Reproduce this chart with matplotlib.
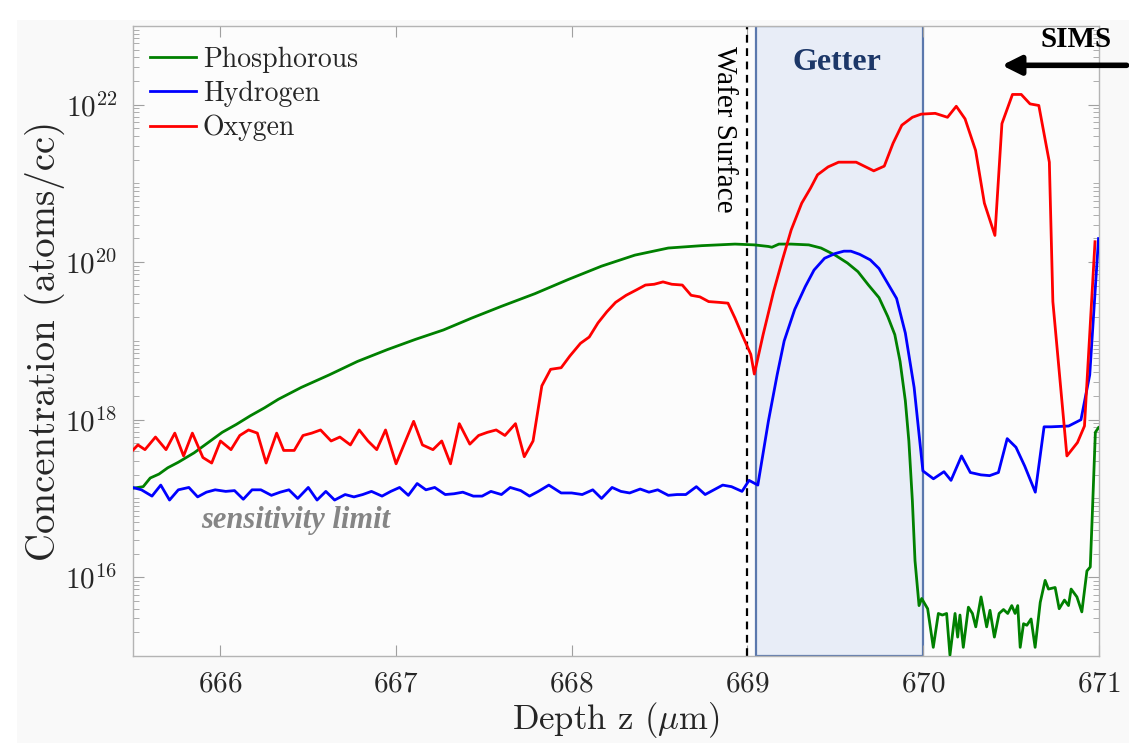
import numpy as np
import matplotlib.pyplot as plt
from matplotlib.patches import Rectangle
from matplotlib.ticker import LogLocator, NullFormatter, FixedLocator

plt.rcParams['font.family'] = 'serif'
plt.rcParams['font.serif'] = ['cmr10']
plt.rcParams['mathtext.fontset'] = 'cm'
plt.rcParams['axes.formatter.use_mathtext'] = True

# SIMS depth profiles, depth in um and log10 of concentration in atoms/cc
p_depth = [665.50, 665.56, 665.60, 665.65, 665.70, 665.76, 665.85, 665.93, 666.01, 666.09,
           666.17, 666.25, 666.33, 666.46, 666.62, 666.78, 666.95, 667.11, 667.27, 667.43,
           667.60, 667.79, 667.98, 668.17, 668.36, 668.55, 668.74, 668.93, 669.04, 669.12,
           669.14, 669.18, 669.25, 669.35, 669.42, 669.50, 669.57, 669.63, 669.69, 669.75,
           669.80, 669.84, 669.87, 669.90, 669.92, 669.94, 669.955, 669.978, 669.993, 670.027,
           670.059, 670.088, 670.111, 670.135, 670.154, 670.183, 670.198, 670.211, 670.230, 670.259,
           670.282, 670.301, 670.331, 670.363, 670.382, 670.407, 670.434, 670.459, 670.483, 670.506,
           670.525, 670.540, 670.554, 670.573, 670.592, 670.616, 670.639, 670.668, 670.696, 670.715,
           670.753, 670.776, 670.806, 670.829, 670.844, 670.877, 670.905, 670.934, 670.953, 670.964,
           670.982, 671.00]
p_log = [17.13, 17.15, 17.26, 17.31, 17.39, 17.46, 17.58, 17.71, 17.84, 17.94,
         18.05, 18.15, 18.26, 18.41, 18.57, 18.74, 18.89, 19.02, 19.14, 19.29,
         19.44, 19.60, 19.78, 19.95, 20.09, 20.18, 20.21, 20.23, 20.22, 20.20,
         20.19, 20.23, 20.23, 20.22, 20.18, 20.09, 19.99, 19.88, 19.71, 19.55,
         19.31, 19.08, 18.74, 18.24, 17.73, 16.97, 16.21, 15.64, 15.73, 15.60,
         15.11, 15.54, 15.52, 15.54, 15.01, 15.54, 15.24, 15.52, 15.11, 15.62,
         15.54, 15.37, 15.75, 15.37, 15.58, 15.24, 15.54, 15.59, 15.54, 15.64,
         15.54, 15.64, 15.11, 15.41, 15.39, 15.47, 15.11, 15.68, 15.96, 15.85,
         15.87, 15.60, 15.71, 15.64, 15.85, 15.75, 15.56, 16.08, 16.13, 16.76,
         17.84, 17.90]

h_depth = [665.50, 665.55, 665.61, 665.66, 665.71, 665.76, 665.82, 665.87, 665.92, 665.97,
           666.03, 666.08, 666.13, 666.18, 666.23, 666.29, 666.34, 666.39, 666.44, 666.50,
           666.55, 666.60, 666.65, 666.71, 666.76, 666.81, 666.86, 666.92, 666.97, 667.02,
           667.07, 667.12, 667.17, 667.22, 667.28, 667.33, 667.38, 667.44, 667.49, 667.54,
           667.60, 667.65, 667.71, 667.76, 667.81, 667.87, 667.94, 668.00, 668.06, 668.12,
           668.17, 668.23, 668.28, 668.33, 668.39, 668.44, 668.49, 668.55, 668.60, 668.65,
           668.71, 668.76, 668.81, 668.86, 668.91, 668.97, 669.01, 669.06, 669.12, 669.17,
           669.21, 669.27, 669.33, 669.38, 669.44, 669.50, 669.55, 669.59, 669.64, 669.70,
           669.75, 669.80, 669.85, 669.90, 669.95, 670.00, 670.06, 670.12, 670.16, 670.22,
           670.27, 670.33, 670.38, 670.43, 670.48, 670.53, 670.58, 670.64, 670.69, 670.73,
           670.83, 670.90, 670.95, 671.00]
h_log = [17.14, 17.11, 17.03, 17.17, 16.98, 17.11, 17.14, 17.02, 17.08, 17.11,
         17.09, 17.10, 16.99, 17.11, 17.11, 17.04, 17.08, 17.11, 17.00, 17.14,
         16.98, 17.09, 16.98, 17.05, 17.02, 17.05, 17.09, 17.03, 17.09, 17.14,
         17.04, 17.19, 17.11, 17.14, 17.05, 17.06, 17.08, 17.03, 17.03, 17.09,
         17.05, 17.14, 17.10, 17.03, 17.09, 17.17, 17.07, 17.07, 17.05, 17.11,
         17.00, 17.14, 17.09, 17.07, 17.12, 17.08, 17.11, 17.04, 17.05, 17.05,
         17.15, 17.05, 17.11, 17.17, 17.15, 17.09, 17.23, 17.17, 17.98, 18.57,
         19.00, 19.40, 19.69, 19.90, 20.05, 20.11, 20.14, 20.14, 20.10, 20.03,
         19.92, 19.73, 19.54, 19.10, 18.41, 17.35, 17.25, 17.34, 17.23, 17.54,
         17.33, 17.30, 17.29, 17.33, 17.76, 17.65, 17.41, 17.08, 17.91, 17.91,
         17.92, 18.00, 18.57, 20.30]

o_depth = [665.50, 665.53, 665.57, 665.63, 665.69, 665.74, 665.79, 665.84, 665.90, 665.95,
           666.00, 666.06, 666.11, 666.16, 666.21, 666.26, 666.32, 666.36, 666.42, 666.47,
           666.52, 666.57, 666.63, 666.68, 666.74, 666.79, 666.84, 666.89, 666.94, 667.00,
           667.05, 667.10, 667.15, 667.21, 667.26, 667.31, 667.36, 667.42, 667.47, 667.52,
           667.57, 667.62, 667.68, 667.73, 667.78, 667.83, 667.88, 667.94, 667.99, 668.05,
           668.10, 668.15, 668.20, 668.25, 668.31, 668.37, 668.42, 668.47, 668.52, 668.57,
           668.63, 668.68, 668.73, 668.78, 668.84, 668.89, 668.93, 668.97, 669.02, 669.04,
           669.09, 669.15, 669.20, 669.25, 669.31, 669.36, 669.40, 669.46, 669.52, 669.62,
           669.72, 669.78, 669.83, 669.88, 669.94, 669.99, 670.07, 670.14, 670.19, 670.24,
           670.30, 670.35, 670.41, 670.45, 670.51, 670.56, 670.61, 670.66, 670.72, 670.74,
           670.82, 670.88, 670.92, 670.98]
o_log = [17.61, 17.68, 17.62, 17.78, 17.62, 17.83, 17.54, 17.83, 17.52, 17.45,
         17.73, 17.62, 17.80, 17.87, 17.83, 17.45, 17.83, 17.61, 17.61, 17.80,
         17.83, 17.87, 17.73, 17.78, 17.68, 17.87, 17.73, 17.62, 17.87, 17.44,
         17.71, 17.98, 17.68, 17.62, 17.73, 17.44, 17.95, 17.69, 17.80, 17.84,
         17.87, 17.80, 17.95, 17.53, 17.73, 18.43, 18.64, 18.66, 18.81, 18.97,
         19.05, 19.23, 19.37, 19.49, 19.58, 19.65, 19.71, 19.72, 19.75, 19.72,
         19.71, 19.58, 19.56, 19.50, 19.49, 19.48, 19.29, 19.08, 18.83, 18.58,
         19.08, 19.63, 20.03, 20.41, 20.75, 20.94, 21.11, 21.21, 21.27, 21.27,
         21.16, 21.22, 21.51, 21.74, 21.84, 21.88, 21.89, 21.84, 21.98, 21.82,
         21.42, 20.75, 20.34, 21.76, 22.13, 22.13, 22.01, 21.99, 21.27, 19.50,
         17.54, 17.71, 17.92, 20.26]

getter = (669.05, 670.0)
wafer_surface = 669.0

fig = plt.figure(figsize=(11.29, 7.43), dpi=100, facecolor='white')
fig.patches.append(Rectangle((17 / 1129, 0), 1, 1 - 20 / 743, transform=fig.transFigure,
                             facecolor='#f9f9f9', edgecolor='none', zorder=-10))
ax = fig.add_axes([0.1175, 0.1171, 0.8555, 0.848])
ax.set_facecolor('#fcfcfc')

ax.axvspan(getter[0], getter[1], facecolor='#e8edf7', edgecolor='#5b78ad', lw=1.6, zorder=1)
ax.axvline(wafer_surface, color='k', ls=(0, (3.5, 2.5)), lw=1.6, zorder=2)

ax.plot(p_depth, 10 ** np.array(p_log), color='#008000', lw=2.0, label='Phosphorous', zorder=3)
ax.plot(h_depth, 10 ** np.array(h_log), color='#0000ff', lw=2.0, label='Hydrogen', zorder=3)
ax.plot(o_depth, 10 ** np.array(o_log), color='#ff0000', lw=2.0, label='Oxygen', zorder=3)

ax.set_yscale('log')
ax.set_xlim(665.5, 671)
ax.set_ylim(1e15, 1e23)
ax.xaxis.set_major_locator(FixedLocator([666, 667, 668, 669, 670, 671]))
ax.yaxis.set_major_locator(FixedLocator([1e16, 1e18, 1e20, 1e22]))
ax.yaxis.set_minor_locator(LogLocator(base=10, subs=np.arange(1, 10), numticks=20))
ax.yaxis.set_minor_formatter(NullFormatter())

for s in ax.spines.values():
    s.set_color('#b4b4b4')
    s.set_linewidth(1.0)
ax.tick_params(which='both', direction='in', top=True, right=True, color='#a0a0a0',
               labelcolor='#262626', labelsize=21)
ax.tick_params(which='major', length=8, pad=11)
ax.tick_params(which='minor', length=4)

ax.set_xlabel('Depth z ($\\mu$m)', fontsize=25, color='#262626', labelpad=2)
ax.set_ylabel('Concentration (atoms/cc)', fontsize=28, color='#262626', labelpad=0)

leg = ax.legend(loc='upper left', bbox_to_anchor=(0.018, 0.967), frameon=False, fontsize=20,
                handlelength=1.65, handletextpad=0.25, labelspacing=0.28,
                borderpad=0, borderaxespad=0)
for t in leg.get_texts():
    t.set_color('#262626')

ax.text(669.51, 10 ** 22.54, 'Getter', family='Liberation Serif', weight='bold',
        fontsize=23, color='#1c3768', ha='center', va='center', zorder=4)
ax.text(668.87, 10 ** 21.69, 'Wafer Surface', family='Liberation Serif', fontsize=21,
        rotation=-90, ha='center', va='center', color='k', zorder=4)
ax.text(666.43, 10 ** 16.72, 'sensitivity limit', family='Liberation Serif', weight='bold',
        style='italic', fontsize=22, color='#858585', ha='center', va='center', zorder=4)
ax.text(670.87, 10 ** 22.83, 'SIMS', family='Liberation Serif', weight='bold',
        fontsize=21, color='k', ha='center', va='center', zorder=4, clip_on=False)
ax.annotate('', xy=(670.45, 10 ** 22.5), xytext=(671.16, 10 ** 22.5),
            arrowprops=dict(arrowstyle='-|>', color='k', lw=4, mutation_scale=28,
                            shrinkA=0, shrinkB=0),
            annotation_clip=False, zorder=4)

fig.savefig('out.png', dpi=100, facecolor=fig.get_facecolor())
